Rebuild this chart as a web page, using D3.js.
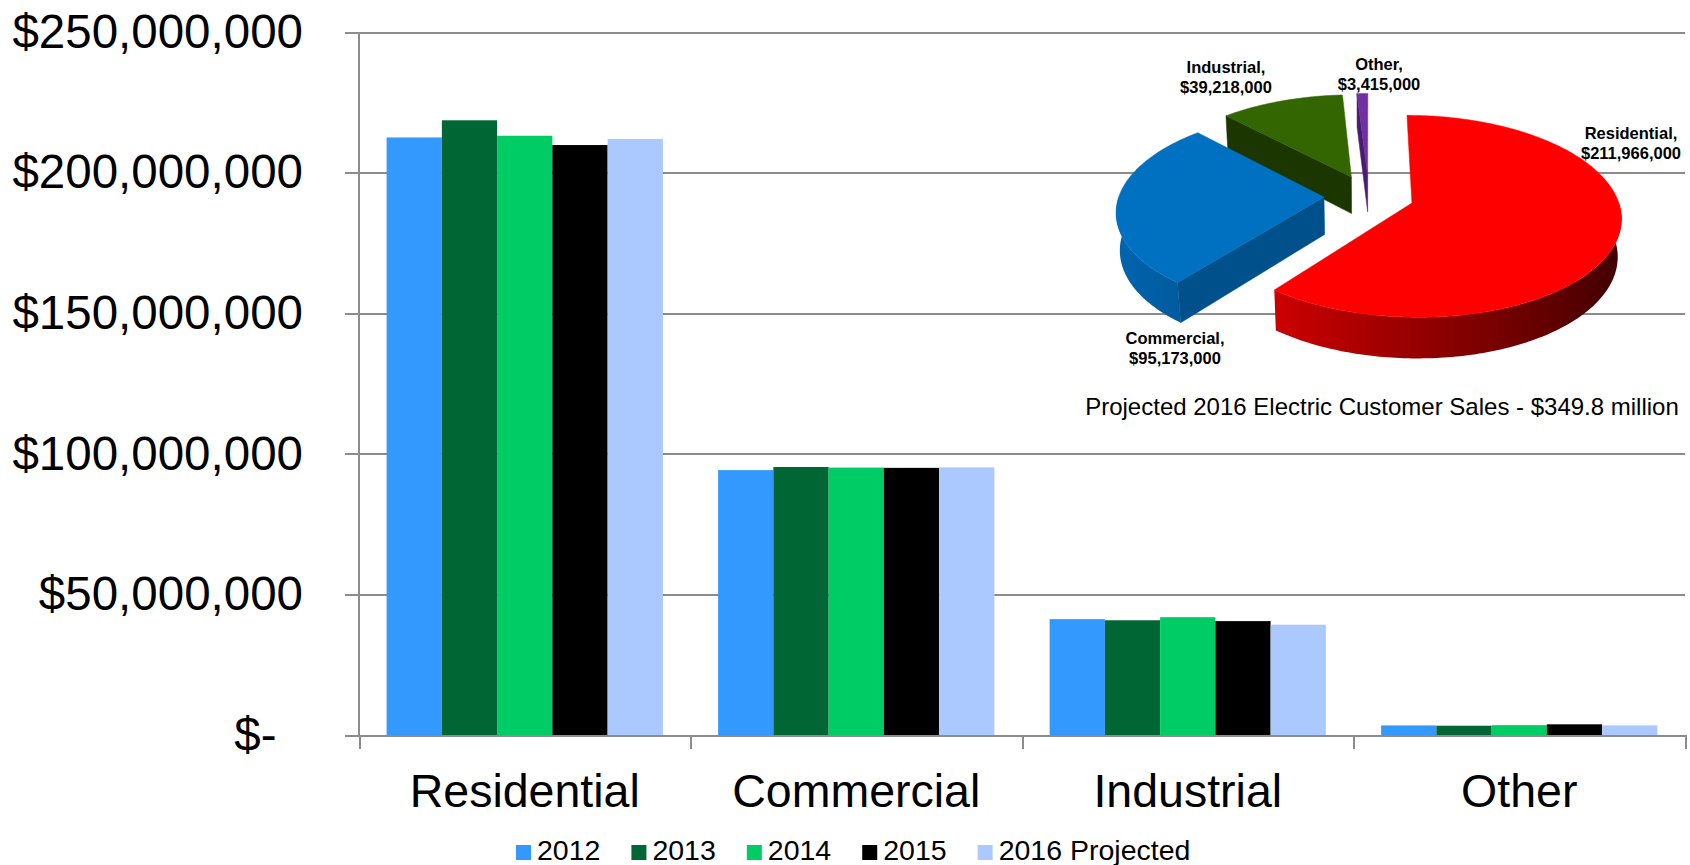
<!DOCTYPE html>
<html><head><meta charset="utf-8">
<script src="https://cdn.jsdelivr.net/npm/d3@7"></script>
<style>
html,body{margin:0;padding:0;background:#fff;}
svg{display:block;font-family:"Liberation Sans",Arial,sans-serif;}
</style></head><body>
<svg id="chart" width="1690" height="865"></svg>
<script>
// ---------- data ----------
const categories = ["Residential", "Commercial", "Industrial", "Other"];
const seriesNames = ["2012", "2013", "2014", "2015", "2016 Projected"];
const values2012 = [212500000, 94200000, 41200000, 3400000];
const values2013 = [218600000, 95300000, 40800000, 3300000];
const values2014 = [213100000, 95100000, 41900000, 3500000];
const values2015 = [209800000, 95000000, 40500000, 3800000];
const values2016 = [211966000, 95173000, 39218000, 3415000];
const yTicks = [0, 50000000, 100000000, 150000000, 200000000, 250000000];
const pieValues = values2016;
const pieTitle = "Projected 2016 Electric Customer Sales - $349.8 million";

// ---------- styles / layout ----------
const seriesColors = ["#3399ff", "#006633", "#00cc66", "#000000", "#abc9ff"];
const pieTop = ["#ff0000", "#0070c0", "#336600", "#7030a0"];
const pieWallLight = ["#f00000", "#0066b0", "#2b5500", "#6a2a9a"];
const pieWallDark = ["#3a0000", "#002e58", "#112200", "#2a0f45"];
const pieRadial = ["#a00000", "#00508c", "#1c3600", "#4a1c70"];
const pieLabelPos = [[1631, 139], [1175, 344], [1226, 73], [1379, 70]];
const gridColor = "#8c8c8c";
const FONT = '"Liberation Sans", Arial, sans-serif';

const svg = d3.select("#chart");
const defs = svg.append("defs");
const plot = {left: 359, right: 1685, top: 32, bottom: 735};

const y = d3.scaleLinear().domain([0, 250000000]).range([plot.bottom, plot.top]);
const x0 = d3.scaleBand().domain(categories).range([plot.left, plot.right]).padding(0);
const x1 = d3.scaleBand().domain(seriesNames).range([0, x0.bandwidth()]).paddingInner(0).paddingOuter(0.5);
const color = d3.scaleOrdinal().domain(seriesNames).range(seriesColors);
const seriesValues = [values2012, values2013, values2014, values2015, values2016];

// ---------- gridlines + y labels ----------
const gy = svg.append("g").attr("transform", `translate(${plot.left - 14},0)`)
  .call(d3.axisLeft(y).tickValues(yTicks)
    .tickSize(-(plot.right - plot.left + 14)).tickPadding(42)
    .tickFormat(d => d === 0 ? "$-" : "$" + d3.format(",")(d)));
gy.select(".domain").remove();
gy.selectAll(".tick line").attr("stroke", gridColor).attr("stroke-width", 2).attr("shape-rendering", "crispEdges");
gy.selectAll(".tick text").attr("font-size", 47.5).attr("font-family", FONT).attr("fill", "#000");
gy.selectAll(".tick").filter(d => d === 0).select("text").attr("x", -42 - 26.4);

// vertical axis line
svg.append("line")
  .attr("x1", x0.range()[0]).attr("x2", x0.range()[0])
  .attr("y1", y(250000000)).attr("y2", y(0))
  .attr("stroke", gridColor).attr("stroke-width", 2).attr("shape-rendering", "crispEdges");

// ---------- bars ----------
const barData = categories.flatMap((c, i) => seriesNames.map((s, j) => ({cat: c, series: s, value: seriesValues[j][i]})));
svg.append("g").selectAll("rect").data(barData).join("rect")
  .attr("x", d => x0(d.cat) + x1(d.series))
  .attr("width", x1.bandwidth())
  .attr("y", d => y(d.value))
  .attr("height", d => y(0) - y(d.value))
  .attr("fill", d => color(d.series));

// ---------- x axis ----------
const xb = d3.scaleLinear().domain([0, categories.length]).range(x0.range());
const gx = svg.append("g").attr("transform", `translate(0,${y(0)})`)
  .call(d3.axisBottom(xb).tickValues(d3.range(categories.length + 1)).tickSize(14).tickSizeOuter(0).tickFormat(""));
gx.select(".domain").attr("stroke", gridColor).attr("stroke-width", 2).attr("shape-rendering", "crispEdges");
gx.selectAll(".tick line").attr("stroke", gridColor).attr("stroke-width", 2).attr("shape-rendering", "crispEdges");

const gl = svg.append("g").attr("transform", `translate(0,${y(0)})`)
  .call(d3.axisBottom(x0).tickSize(0).tickPadding(0));
gl.select(".domain").remove();
gl.selectAll(".tick text").attr("y", 72).attr("dy", 0).attr("font-size", 46.5).attr("font-family", FONT).attr("fill", "#000");

// ---------- legend ----------
const lg = svg.append("g");
let lx = 516;
seriesNames.forEach(s => {
  lg.append("rect").attr("x", lx).attr("y", 845).attr("width", 15).attr("height", 15).attr("fill", color(s));
  const t = lg.append("text").attr("x", lx + 21).attr("y", 860).attr("font-size", 28.5)
    .attr("font-family", FONT).attr("fill", "#000").text(s);
  lx += 21 + t.node().getComputedTextLength() + 31;
});

// ---------- 3D exploded pie ----------
const P = {cx: 1369, cy: 196, r: 205, h: 43, sinE: 0.475, cosE: 0.88, D: 1389, explode: 45};
function proj(X, Z, Yh) {
  const w = Yh * P.sinE + Z * P.cosE;
  const p = P.D / (P.D - w);
  return [P.cx + X * p, P.cy + (Z * P.sinE - Yh * P.cosE) * p];
}
const arcs = d3.pie().sort(null).value(d => d)(pieValues);
const line = d3.line();
const pg = svg.append("g");

const slices = arcs.map((a, i) => {
  const m = (a.startAngle + a.endAngle) / 2;
  return {a, i, ox: P.explode * Math.sin(m), oz: -P.explode * Math.cos(m)};
}).sort((p, q) => p.oz - q.oz);

slices.forEach(s => {
  const {a, i, ox, oz} = s;
  const pt = (t, rho, yh) => proj(ox + rho * Math.sin(t), oz - rho * Math.cos(t), yh);
  const a0 = a.startAngle, a1 = a.endAngle;
  const g = pg.append("g");
  // curved outer wall (front-facing part), smooth horizontal gradient
  const v0 = Math.max(a0, Math.PI / 2), v1 = Math.min(a1, 3 * Math.PI / 2);
  if (v1 > v0) {
    const n = Math.max(2, Math.ceil((v1 - v0) / (Math.PI / 180)));
    const shade = d3.interpolateRgb(pieWallLight[i], pieWallDark[i]);
    const angs = d3.range(n + 1).map(k => v0 + (v1 - v0) * k / n);
    const topArc = angs.map(t => pt(t, P.r, 0));
    const botArc = angs.map(t => pt(t, P.r, -P.h)).reverse();
    const xs = topArc.map(p => p[0]);
    const xmin = d3.min(xs), xmax = d3.max(xs);
    const gid = "wallgrad" + i;
    const grad = defs.append("linearGradient").attr("id", gid)
      .attr("gradientUnits", "userSpaceOnUse")
      .attr("x1", xmin).attr("x2", xmax).attr("y1", 0).attr("y2", 0);
    const stops = angs.map((t, k) => ({off: (xs[k] - xmin) / (xmax - xmin || 1), c: shade((Math.sin(t) + 1) / 2)}))
      .sort((p, q) => p.off - q.off);
    grad.selectAll("stop").data(stops).join("stop")
      .attr("offset", d => d.off).attr("stop-color", d => d.c);
    g.append("path").attr("d", line(topArc.concat(botArc)) + "Z").attr("fill", `url(#${gid})`);
  }
  // radial walls
  const radial = t => line([pt(t, 0, 0), pt(t, P.r, 0), pt(t, P.r, -P.h), pt(t, 0, -P.h)]) + "Z";
  if (-Math.sin(a0) > 0.02) g.append("path").attr("d", radial(a0)).attr("fill", pieRadial[i]).attr("stroke", pieRadial[i]).attr("stroke-width", 0.5);
  if (Math.sin(a1) > 0.02) g.append("path").attr("d", radial(a1)).attr("fill", pieRadial[i]).attr("stroke", pieRadial[i]).attr("stroke-width", 0.5);
  // top face
  const n = Math.max(2, Math.ceil((a1 - a0) / (Math.PI / 180)));
  const topPts = [pt(0, 0, 0)].concat(d3.range(n + 1).map(k => pt(a0 + (a1 - a0) * k / n, P.r, 0)));
  g.append("path").attr("d", line(topPts) + "Z").attr("fill", pieTop[i]).attr("stroke", pieTop[i]).attr("stroke-width", 0.5);
});

// pie labels
const plg = svg.append("g").attr("font-family", FONT).attr("font-weight", "bold").attr("font-size", 16.5).attr("fill", "#000").attr("text-anchor", "middle");
categories.forEach((c, i) => {
  const [lxp, lyp] = pieLabelPos[i];
  plg.append("text").attr("x", lxp).attr("y", lyp).text(c + ",");
  plg.append("text").attr("x", lxp).attr("y", lyp + 19.5).text("$" + d3.format(",")(pieValues[i]));
});

svg.append("text").attr("x", 1382).attr("y", 415).attr("text-anchor", "middle")
  .attr("font-family", FONT).attr("font-size", 24).attr("fill", "#000").text(pieTitle);
</script>
</body></html>
